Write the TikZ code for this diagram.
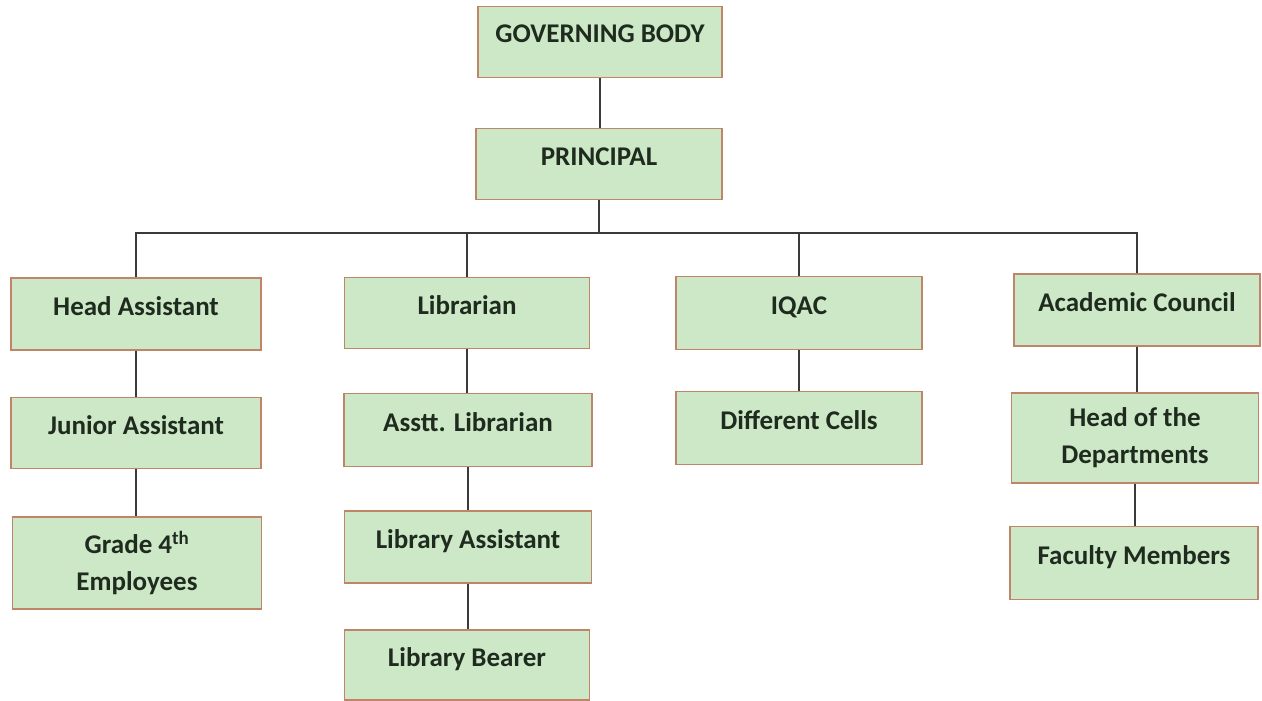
\documentclass[tikz,border=0pt]{standalone}
\usepackage{fontspec}
\setmainfont{Carlito}
\definecolor{boxfill}{HTML}{CDE8C6}
\definecolor{boxedge}{HTML}{C08468}
\definecolor{boxtext}{HTML}{1E2B1E}
\definecolor{wire}{HTML}{3A3A3A}
\tikzset{
  orgbox/.style={draw=boxedge, line width=1.5pt, fill=boxfill, minimum width=246pt, minimum height=72pt,
    text=boxtext, font=\fontsize{27}{37}\selectfont\bfseries, align=center, inner sep=2pt,
    text height=20pt, text depth=18pt},
  twoline/.style={text height=, text depth=},
  wirestyle/.style={draw=wire, line width=2pt}
}
\begin{document}
\begin{tikzpicture}[x=1pt,y=-1pt]
\useasboundingbox (0,0) rectangle (1262,701);
\node[orgbox, minimum width=244pt, minimum height=71pt] (GB) at (600,42) {GOVERNING BODY};
\node[orgbox, minimum height=71pt] (PR) at (599,164) {PRINCIPAL};
\node[orgbox, minimum width=250pt] (HA) at (136,314) {Head Assistant};
\node[orgbox, minimum width=250pt, minimum height=71pt] (JA) at (136,433) {Junior Assistant};
\node[orgbox, twoline, minimum width=249pt, minimum height=92pt] (G4) at (137,563) {Grade 4\textsuperscript{th}\\Employees};
\node[orgbox, minimum width=245pt, minimum height=71pt] (LI) at (467,313) {Librarian};
\node[orgbox, minimum width=248pt, minimum height=73pt] (AL) at (468,430) {Asstt. Librarian};
\node[orgbox, minimum width=247pt] (LA) at (468,547) {Library Assistant};
\node[orgbox, minimum width=245pt, minimum height=70pt] (LB) at (467,665) {Library Bearer};
\node[orgbox, minimum height=73pt] (IQ) at (799,313) {IQAC};
\node[orgbox, minimum height=73pt] (DC) at (799,428) {Different Cells};
\node[orgbox] (AC) at (1137,310) {Academic Council};
\node[orgbox, twoline, minimum width=247pt, minimum height=90pt] (HD) at (1135,438) {Head of the\\Departments};
\node[orgbox, minimum width=248pt, minimum height=73pt] (FM) at (1134,563) {Faculty Members};
\coordinate (bus) at (599,233);
\draw[wirestyle] (GB.south) -- (GB.south |- PR.north);
\draw[wirestyle] (PR.south) -- (bus);
\draw[wirestyle] (HA.north) |- (bus) -| (AC.north);
\draw[wirestyle] (LI.north) -- (LI.north |- bus);
\draw[wirestyle] (IQ.north) -- (IQ.north |- bus);
\draw[wirestyle] (HA.south) -- (HA.south |- JA.north);
\draw[wirestyle] (JA.south) -- (JA.south |- G4.north);
\draw[wirestyle] (LI.south) -- (LI.south |- AL.north);
\draw[wirestyle] (AL.south) -- (AL.south |- LA.north);
\draw[wirestyle] (LA.south) -- (LA.south |- LB.north);
\draw[wirestyle] (IQ.south) -- (IQ.south |- DC.north);
\draw[wirestyle] (AC.south) -- (AC.south |- HD.north);
\draw[wirestyle] (HD.south) -- (HD.south |- FM.north);
\end{tikzpicture}
\end{document}
